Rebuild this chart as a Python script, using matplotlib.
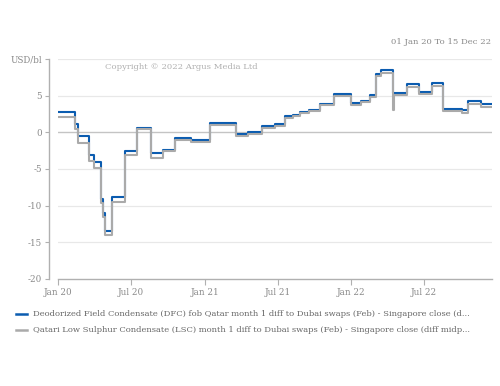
import matplotlib
matplotlib.use("Agg")
import matplotlib.pyplot as plt
import matplotlib.dates as mdates
from matplotlib.lines import Line2D
import numpy as np
import pandas as pd

dates = ["2020-01-01", "2020-02-12", "2020-02-20", "2020-03-18", "2020-03-31",
         "2020-04-17", "2020-04-22", "2020-04-28", "2020-05-14", "2020-06-17",
         "2020-07-16", "2020-08-20", "2020-09-19", "2020-10-19", "2020-11-27",
         "2021-01-14", "2021-03-19", "2021-04-18", "2021-05-23", "2021-06-25",
         "2021-07-20", "2021-08-09", "2021-08-26", "2021-09-17", "2021-10-15",
         "2021-11-19", "2021-12-30", "2022-01-25", "2022-02-16", "2022-03-03",
         "2022-03-15", "2022-04-14", "2022-04-16", "2022-05-19", "2022-06-19",
         "2022-07-20", "2022-08-18", "2022-10-03", "2022-10-19", "2022-11-19",
         "2022-12-15"]
dfc = [2.85, 1.1, -0.45, -3.05, -4.0, -9.1, -11.0, -13.5, -8.87, -2.5,
       0.62, -2.82, -2.37, -0.76, -1.0, 1.3, -0.2, 0.0, 0.85, 1.2,
       2.2, 2.45, 2.82, 3.13, 3.9, 5.2, 4.05, 4.35, 5.08, 7.95,
       8.5, 5.34, 5.34, 6.57, 5.57, 6.7, 3.23, 3.0, 4.28, 3.82, 3.82]
lsc = [2.15, 0.5, -1.45, -3.9, -4.8, -9.6, -11.5, -14.05, -9.5, -3.05,
       0.48, -3.5, -2.6, -1.1, -1.27, 1.03, -0.53, -0.17, 0.62, 0.84,
       2.0, 2.2, 2.6, 2.95, 3.75, 4.95, 3.75, 4.1, 4.85, 7.65,
       8.15, 3.0, 5.1, 6.25, 5.3, 6.35, 2.95, 2.7, 3.95, 3.5, 3.5]

dfc_label = "Deodorized Field Condensate (DFC) fob Qatar month 1 diff to Dubai swaps (Feb) - Singapore close (d..."
lsc_label = "Qatari Low Sulphur Condensate (LSC) month 1 diff to Dubai swaps (Feb) - Singapore close (diff midp..."
yticks = [10, 5, 0, -5, -10, -15, -20]
ytick_labels = ["USD/bl", "5", "0", "-5", "-10", "-15", "-20"]
xtick_dates = ["2020-01-01", "2020-07-01", "2021-01-01", "2021-07-01", "2022-01-01", "2022-07-01"]
xtick_labels = ["Jan 20", "Jul 20", "Jan 21", "Jul 21", "Jan 22", "Jul 22"]

plt.rcParams['font.family'] = ['DejaVu Serif']
FS = 6.3
TXT = "#8a8a8a"
BLUE = "#0b5cb0"
GRAY = "#aaaaaa"

fig = plt.figure(figsize=(5, 3.86), dpi=100)
ax = fig.add_axes([58/500, 1-278.7/386, 434/500, (278.7-59.3)/386])

d = pd.to_datetime(dates)
ax.step(d, dfc, where='post', color=BLUE, lw=1.5, zorder=3)
ax.step(d, lsc, where='post', color=GRAY, lw=1.5, zorder=4)

ax.set_xlim(pd.Timestamp("2020-01-01"), pd.Timestamp("2022-12-17"))
ax.set_ylim(-20, 10)
ax.set_yticks(yticks)
ax.set_yticklabels(ytick_labels)
ax.set_xticks(pd.to_datetime(xtick_dates))
ax.set_xticklabels(xtick_labels)

for y in [10, 5, -5, -10, -15]:
    ax.axhline(y, color="#e8e8e8", lw=0.9, zorder=1)
ax.axhline(0, color="#c4c4c4", lw=1.0, zorder=1)

for s in ['top', 'right']:
    ax.spines[s].set_visible(False)
ax.spines['left'].set_position(('outward', 6.5))
ax.spines['left'].set_color("#b0b0b0")
ax.spines['bottom'].set_color("#b0b0b0")
ax.spines['left'].set_linewidth(1.0)
ax.spines['bottom'].set_linewidth(1.0)
ax.tick_params(axis='y', length=3, color="#b0b0b0", labelsize=FS, labelcolor=TXT, pad=2)
ax.tick_params(axis='x', length=4, color="#b0b0b0", labelsize=FS, labelcolor=TXT, pad=3)

fig.text(491/500, 1-42/386, "01 Jan 20 To 15 Dec 22", ha='right', va='center',
         fontsize=6.1, color=TXT)
fig.text(181/500, 1-67/386, "Copyright © 2022 Argus Media Ltd", ha='center', va='center',
         fontsize=6.1, color="#b0b0b0")

for yy, col, lab in [(314, BLUE, dfc_label), (330, GRAY, lsc_label)]:
    fig.add_artist(Line2D([16/500, 27/500], [1-yy/386]*2, color=col, lw=1.8))
    fig.text(33/500, 1-yy/386, lab, ha='left', va='center', fontsize=6.0, color="#666666")

fig.savefig("out.png", dpi=100)
